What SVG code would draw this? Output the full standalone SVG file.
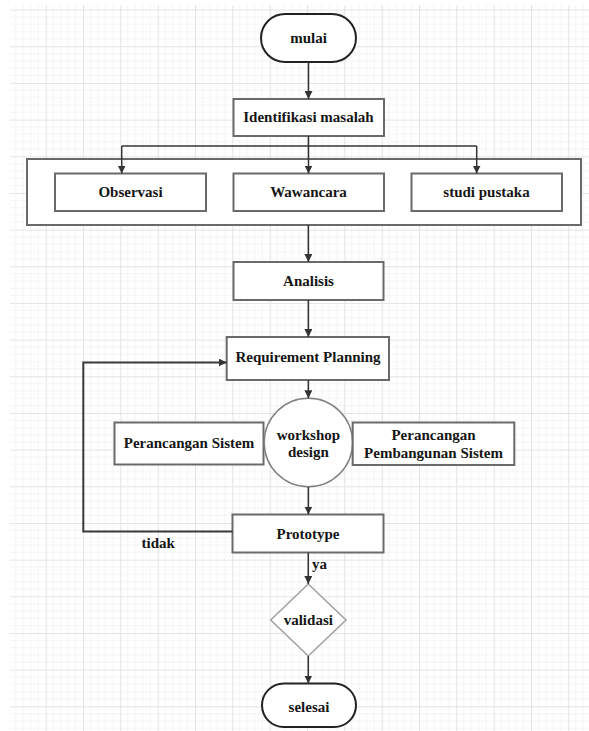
<svg xmlns="http://www.w3.org/2000/svg" width="589" height="731" viewBox="0 0 589 731">
<style>
.box{fill:#ffffff;stroke:#6a6a6a;stroke-width:2}
.term{fill:#ffffff;stroke:#222222;stroke-width:2}
.circ{fill:#ffffff;stroke:#808080;stroke-width:1.5}
.dia{fill:#ffffff;stroke:#a0a0a0;stroke-width:1.5}
.lbl{font-size:15px;font-weight:bold;fill:#151515;text-anchor:middle}
.free{text-anchor:start}
.con{fill:none;stroke:#333333;stroke-width:1.5}
.loop{fill:none;stroke:#3a3a3a;stroke-width:2}
</style>
<defs>
<pattern id="grid" patternUnits="userSpaceOnUse" x="8.37" y="9.6" width="37.33" height="36.67">
<g stroke="#f4f4f4" stroke-width="1">
<line x1="7.47" y1="0" x2="7.47" y2="36.67"/>
<line x1="14.93" y1="0" x2="14.93" y2="36.67"/>
<line x1="22.4" y1="0" x2="22.4" y2="36.67"/>
<line x1="29.87" y1="0" x2="29.87" y2="36.67"/>
<line x1="0" y1="7.33" x2="37.33" y2="7.33"/>
<line x1="0" y1="14.67" x2="37.33" y2="14.67"/>
<line x1="0" y1="22" x2="37.33" y2="22"/>
<line x1="0" y1="29.33" x2="37.33" y2="29.33"/>
</g>
<g stroke="#e4e4e4" stroke-width="1.2">
<line x1="0.5" y1="0" x2="0.5" y2="36.67"/>
<line x1="0" y1="0.5" x2="37.33" y2="0.5"/>
</g>
</pattern>
<marker id="arr" markerUnits="userSpaceOnUse" markerWidth="8" markerHeight="8" refX="8" refY="4" orient="auto">
<path d="M0,0 L8,4 L0,8 z" fill="#333333"/>
</marker>
</defs>
<rect x="0" y="0" width="589" height="731" fill="#ffffff"/>
<rect x="10" y="5" width="579" height="726" fill="url(#grid)"/>

<g font-family="'Liberation Serif', 'DejaVu Serif', serif">
<g id="mulai">
<rect class="term" x="261" y="14" width="95" height="48" rx="24" ry="24"/>
<text class="lbl" x="308.5" y="43">mulai</text>
</g>
<g id="identifikasi">
<rect class="box" x="233.5" y="99" width="150.5" height="37"/>
<text class="lbl" x="308.5" y="122">Identifikasi masalah</text>
</g>
<g id="pengumpulan">
<rect class="box" x="27" y="159" width="554" height="66"/>
</g>
<g id="observasi">
<rect class="box" x="55" y="173.5" width="151" height="37.5"/>
<text class="lbl" x="130.5" y="197">Observasi</text>
</g>
<g id="wawancara">
<rect class="box" x="233.5" y="173.5" width="150.5" height="37.5"/>
<text class="lbl" x="308.5" y="197">Wawancara</text>
</g>
<g id="studi">
<rect class="box" x="411.5" y="173.5" width="150.5" height="37.5"/>
<text class="lbl" x="486.5" y="197">studi pustaka</text>
</g>
<g id="analisis">
<rect class="box" x="233.5" y="262" width="150" height="38"/>
<text class="lbl" x="308.5" y="286">Analisis</text>
</g>
<g id="requirement">
<rect class="box" x="226.7" y="337" width="162.3" height="43"/>
<text class="lbl" x="308" y="362">Requirement Planning</text>
</g>
<g id="perancangan-sistem">
<rect class="box" x="114.5" y="422.5" width="149" height="42"/>
<text class="lbl" x="189" y="448">Perancangan Sistem</text>
</g>
<g id="workshop">
<circle class="circ" cx="308.4" cy="442.5" r="44.2"/>
<text class="lbl" x="308.4" y="440">workshop</text>
<text class="lbl" x="308.4" y="457">design</text>
</g>
<g id="pembangunan">
<rect class="box" x="352.7" y="422.5" width="161.6" height="42.5"/>
<text class="lbl" x="433.5" y="440">Perancangan</text>
<text class="lbl" x="433.5" y="458">Pembangunan Sistem</text>
</g>
<g id="prototype">
<rect class="box" x="232.5" y="514.5" width="151" height="38"/>
<text class="lbl" x="308" y="538.5">Prototype</text>
</g>
<g id="validasi">
<polygon class="dia" points="308.3,584 346,620 308.3,656 270.7,620"/>
<text class="lbl" x="308.3" y="624.5">validasi</text>
</g>
<g id="selesai">
<rect class="term" x="262" y="683.5" width="94" height="43.5" rx="21.75" ry="21.75"/>
<text class="lbl" x="309" y="712">selesai</text>
</g>

<g id="connectors">
<line class="con" x1="308.5" y1="62" x2="308.5" y2="99" marker-end="url(#arr)"/>
<line class="con" x1="308.5" y1="136" x2="308.5" y2="173.5" marker-end="url(#arr)"/>
<line class="con" x1="121.7" y1="146" x2="476.7" y2="146"/>
<line class="con" x1="121.7" y1="146" x2="121.7" y2="173.5" marker-end="url(#arr)"/>
<line class="con" x1="476.7" y1="146" x2="476.7" y2="173.5" marker-end="url(#arr)"/>
<line class="con" x1="308.4" y1="225" x2="308.4" y2="262" marker-end="url(#arr)"/>
<line class="con" x1="308.4" y1="300" x2="308.4" y2="337" marker-end="url(#arr)"/>
<line class="con" x1="308.4" y1="380" x2="308.4" y2="398.3" marker-end="url(#arr)"/>
<line class="con" x1="308.4" y1="486.7" x2="308.4" y2="514.5" marker-end="url(#arr)"/>
<polyline class="loop" points="232.5,531.5 83.3,531.5 83.3,362.5 226.7,362.5" marker-end="url(#arr)"/>
<line class="con" x1="308.3" y1="552.5" x2="308.3" y2="584" marker-end="url(#arr)"/>
<line class="con" x1="308.3" y1="656" x2="308.3" y2="683.5" marker-end="url(#arr)"/>
<text class="lbl free" x="141.5" y="548">tidak</text>
<text class="lbl free" x="312" y="569">ya</text>
</g>
</g>
</svg>
